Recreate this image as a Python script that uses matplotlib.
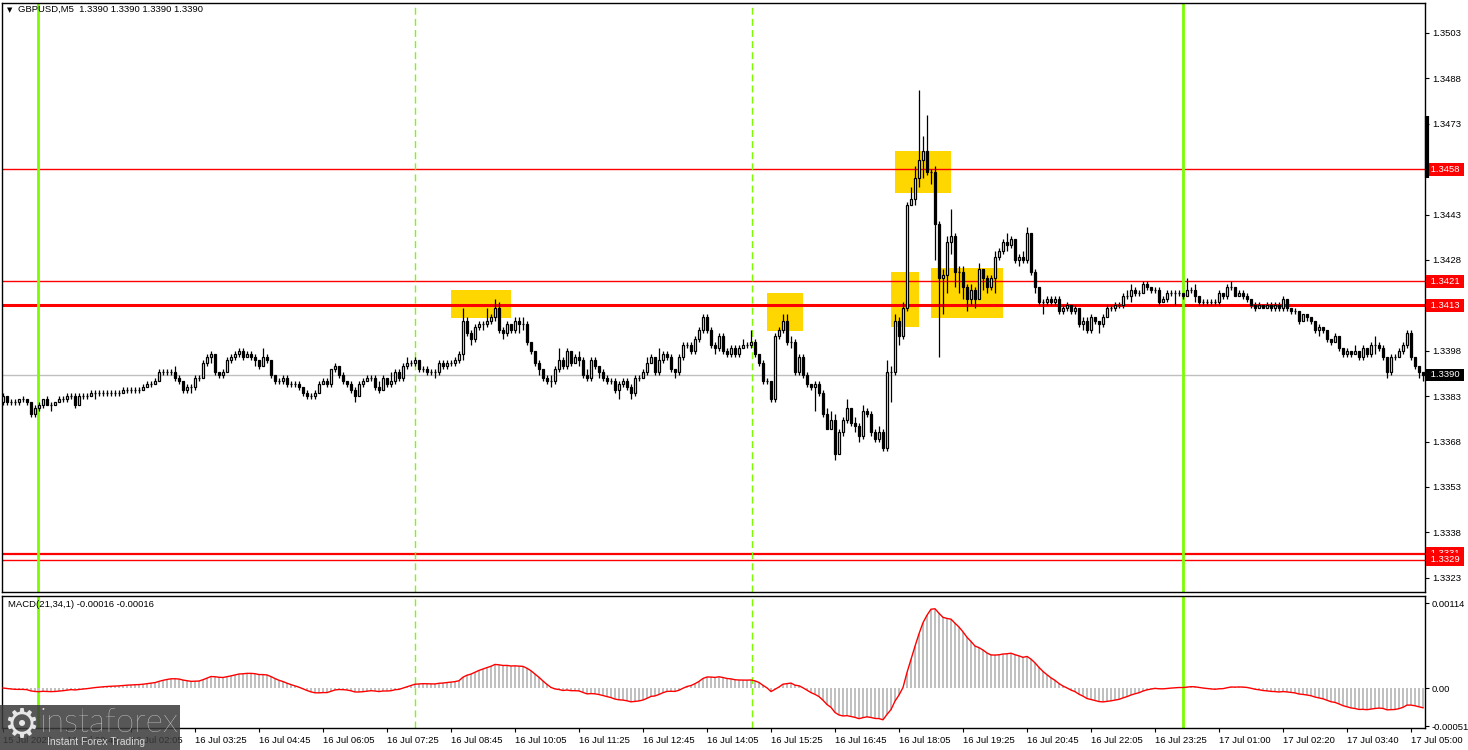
import numpy as np
import pandas as pd
import matplotlib
matplotlib.use("Agg")
import matplotlib.pyplot as plt
import matplotlib.transforms as mtransforms
from matplotlib.patches import Rectangle

plt.rcParams['font.family'] = ['Liberation Sans', 'DejaVu Sans']

# ---------------- data (GBPUSD M5) ----------------
first_open = 1.3381
closes = [
    1.3383, 1.3381, 1.3381, 1.3381, 1.3382, 1.3382, 1.3381, 1.3377, 1.3379, 1.3380,
    1.3382, 1.3380, 1.3380, 1.3381, 1.3382, 1.3382, 1.3383, 1.3383, 1.3380, 1.3383,
    1.3383, 1.3383, 1.3384, 1.3384, 1.3384, 1.3384, 1.3384, 1.3384, 1.3384, 1.3384,
    1.3385, 1.3385, 1.3385, 1.3385, 1.3385, 1.3386, 1.3387, 1.3387, 1.3388, 1.3391,
    1.3391, 1.3391, 1.3391, 1.3389, 1.3388, 1.3385, 1.3386, 1.3386, 1.3389, 1.3389,
    1.3394, 1.3396, 1.3397, 1.3391, 1.3390, 1.3391, 1.3395, 1.3396, 1.3397, 1.3398,
    1.3396, 1.3397, 1.3396, 1.3395, 1.3393, 1.3396, 1.3395, 1.3390, 1.3388, 1.3388,
    1.3389, 1.3387, 1.3387, 1.3387, 1.3386, 1.3384, 1.3383, 1.3383, 1.3384, 1.3387,
    1.3388, 1.3387, 1.3392, 1.3393, 1.3390, 1.3388, 1.3387, 1.3385, 1.3383, 1.3387,
    1.3388, 1.3389, 1.3389, 1.3386, 1.3385, 1.3389, 1.3387, 1.3388, 1.3391, 1.3389,
    1.3393, 1.3394, 1.3394, 1.3395, 1.3392, 1.3392, 1.3391, 1.3391, 1.3391, 1.3394,
    1.3393, 1.3394, 1.3394, 1.3395, 1.3397, 1.3408, 1.3404, 1.3402, 1.3406, 1.3407,
    1.3407, 1.3408, 1.3409, 1.3412, 1.3405, 1.3404, 1.3407, 1.3405, 1.3408, 1.3407,
    1.3407, 1.3401, 1.3398, 1.3394, 1.3392, 1.3389, 1.3388, 1.3388, 1.3392, 1.3395,
    1.3393, 1.3398, 1.3394, 1.3396, 1.3395, 1.3390, 1.3389, 1.3395, 1.3393, 1.3391,
    1.3389, 1.3388, 1.3388, 1.3385, 1.3387, 1.3388, 1.3386, 1.3384, 1.3389, 1.3389,
    1.3391, 1.3394, 1.3396, 1.3391, 1.3395, 1.3397, 1.3396, 1.3392, 1.3391, 1.3396,
    1.3400, 1.3400, 1.3398, 1.3402, 1.3405, 1.3409, 1.3405, 1.3400, 1.3399, 1.3403,
    1.3398, 1.3397, 1.3399, 1.3397, 1.3399, 1.3400, 1.3400, 1.3401, 1.3397, 1.3394,
    1.3388, 1.3388, 1.3382, 1.3403, 1.3405, 1.3408, 1.3401, 1.3401, 1.3391, 1.3396,
    1.3390, 1.3387, 1.3386, 1.3387, 1.3384, 1.3377, 1.3372, 1.3375, 1.3364, 1.3371,
    1.3375, 1.3379, 1.3374, 1.3373, 1.3370, 1.3378, 1.3377, 1.3371, 1.3369, 1.3371,
    1.3366, 1.3391, 1.3391, 1.3408, 1.3403, 1.3412, 1.3446, 1.3448, 1.3455, 1.3461,
    1.3464, 1.3457, 1.3457, 1.3440, 1.3422, 1.3423, 1.3434, 1.3436, 1.3424, 1.3424,
    1.3419, 1.3415, 1.3418, 1.3415, 1.3425, 1.3422, 1.3419, 1.3422, 1.3429, 1.3431,
    1.3434, 1.3433, 1.3435, 1.3428, 1.3429, 1.3428, 1.3437, 1.3424, 1.3419, 1.3414,
    1.3414, 1.3415, 1.3414, 1.3415, 1.3411, 1.3412, 1.3413, 1.3411, 1.3412, 1.3407,
    1.3408, 1.3405, 1.3409, 1.3408, 1.3407, 1.3409, 1.3412, 1.3412, 1.3413, 1.3413,
    1.3416, 1.3416, 1.3418, 1.3417, 1.3417, 1.3420, 1.3419, 1.3418, 1.3418, 1.3414,
    1.3415, 1.3417, 1.3417, 1.3417, 1.3417, 1.3416, 1.3418, 1.3418, 1.3416, 1.3414,
    1.3414, 1.3414, 1.3414, 1.3414, 1.3417, 1.3416, 1.3419, 1.3419, 1.3416, 1.3417,
    1.3416, 1.3415, 1.3413, 1.3412, 1.3413, 1.3412, 1.3413, 1.3412, 1.3413, 1.3412,
    1.3415, 1.3412, 1.3411, 1.3411, 1.3408, 1.3410, 1.3409, 1.3408, 1.3405, 1.3406,
    1.3405, 1.3402, 1.3401, 1.3403, 1.3399, 1.3397, 1.3398, 1.3397, 1.3398, 1.3396,
    1.3399, 1.3397, 1.3400, 1.3400, 1.3399, 1.3396, 1.3391, 1.3396, 1.3396, 1.3398,
    1.3400, 1.3404, 1.3396, 1.3393, 1.3391, 1.3390,
]
highs = [
    1.3384, 1.3383, 1.3382, 1.3382, 1.3382, 1.3383, 1.3382, 1.3381, 1.3380, 1.3381,
    1.3382, 1.3383, 1.3381, 1.3381, 1.3383, 1.3383, 1.3384, 1.3384, 1.3384, 1.3384,
    1.3384, 1.3384, 1.3385, 1.3385, 1.3385, 1.3385, 1.3385, 1.3385, 1.3385, 1.3385,
    1.3386, 1.3386, 1.3386, 1.3386, 1.3386, 1.3387, 1.3388, 1.3388, 1.3389, 1.3392,
    1.3392, 1.3392, 1.3392, 1.3393, 1.3390, 1.3388, 1.3387, 1.3387, 1.3390, 1.3390,
    1.3395, 1.3397, 1.3398, 1.3397, 1.3391, 1.3392, 1.3396, 1.3397, 1.3398, 1.3399,
    1.3399, 1.3398, 1.3398, 1.3397, 1.3395, 1.3399, 1.3397, 1.3395, 1.3390, 1.3389,
    1.3390, 1.3390, 1.3388, 1.3388, 1.3388, 1.3386, 1.3385, 1.3384, 1.3385, 1.3388,
    1.3389, 1.3389, 1.3392, 1.3394, 1.3393, 1.3391, 1.3388, 1.3388, 1.3386, 1.3388,
    1.3389, 1.3390, 1.3390, 1.3390, 1.3388, 1.3390, 1.3389, 1.3391, 1.3392, 1.3392,
    1.3394, 1.3396, 1.3395, 1.3396, 1.3395, 1.3393, 1.3393, 1.3392, 1.3392, 1.3395,
    1.3395, 1.3395, 1.3395, 1.3396, 1.3398, 1.3412, 1.3409, 1.3405, 1.3407, 1.3408,
    1.3408, 1.3412, 1.3410, 1.3415, 1.3414, 1.3406, 1.3408, 1.3407, 1.3409, 1.3409,
    1.3409, 1.3408, 1.3401, 1.3398, 1.3395, 1.3392, 1.3390, 1.3390, 1.3393, 1.3399,
    1.3396, 1.3399, 1.3398, 1.3397, 1.3398, 1.3396, 1.3392, 1.3396, 1.3396, 1.3393,
    1.3392, 1.3390, 1.3389, 1.3389, 1.3388, 1.3389, 1.3389, 1.3387, 1.3390, 1.3390,
    1.3392, 1.3396, 1.3397, 1.3396, 1.3399, 1.3398, 1.3398, 1.3397, 1.3392, 1.3397,
    1.3401, 1.3401, 1.3401, 1.3403, 1.3406, 1.3410, 1.3410, 1.3406, 1.3401, 1.3404,
    1.3404, 1.3399, 1.3400, 1.3400, 1.3400, 1.3402, 1.3401, 1.3405, 1.3402, 1.3397,
    1.3395, 1.3389, 1.3388, 1.3404, 1.3406, 1.3410, 1.3410, 1.3403, 1.3402, 1.3397,
    1.3397, 1.3391, 1.3387, 1.3388, 1.3388, 1.3385, 1.3379, 1.3378, 1.3377, 1.3372,
    1.3376, 1.3382, 1.3379, 1.3376, 1.3374, 1.3380, 1.3379, 1.3378, 1.3372, 1.3373,
    1.3372, 1.3395, 1.3393, 1.3410, 1.3409, 1.3414, 1.3447, 1.3452, 1.3459, 1.3484,
    1.3469, 1.3476, 1.3458, 1.3459, 1.3441, 1.3425, 1.3436, 1.3445, 1.3437, 1.3426,
    1.3426, 1.3420, 1.3420, 1.3419, 1.3427, 1.3425, 1.3423, 1.3423, 1.3431, 1.3432,
    1.3435, 1.3437, 1.3436, 1.3435, 1.3430, 1.3431, 1.3439, 1.3437, 1.3425, 1.3419,
    1.3415, 1.3416, 1.3416, 1.3416, 1.3416, 1.3413, 1.3414, 1.3413, 1.3413, 1.3412,
    1.3409, 1.3409, 1.3410, 1.3409, 1.3408, 1.3410, 1.3413, 1.3413, 1.3414, 1.3414,
    1.3417, 1.3418, 1.3420, 1.3419, 1.3418, 1.3421, 1.3421, 1.3419, 1.3419, 1.3419,
    1.3416, 1.3418, 1.3418, 1.3418, 1.3418, 1.3417, 1.3422, 1.3419, 1.3420, 1.3416,
    1.3415, 1.3415, 1.3415, 1.3415, 1.3418, 1.3417, 1.3420, 1.3421, 1.3419, 1.3418,
    1.3418, 1.3417, 1.3415, 1.3414, 1.3414, 1.3413, 1.3414, 1.3414, 1.3414, 1.3414,
    1.3416, 1.3415, 1.3412, 1.3412, 1.3411, 1.3410, 1.3410, 1.3409, 1.3408, 1.3407,
    1.3406, 1.3405, 1.3402, 1.3404, 1.3403, 1.3399, 1.3399, 1.3398, 1.3400, 1.3398,
    1.3400, 1.3399, 1.3401, 1.3403, 1.3401, 1.3400, 1.3396, 1.3397, 1.3397, 1.3399,
    1.3401, 1.3405, 1.3405, 1.3396, 1.3392, 1.3391,
]
lows = [
    1.3380, 1.3380, 1.3380, 1.3380, 1.3380, 1.3381, 1.3380, 1.3376, 1.3376, 1.3378,
    1.3379, 1.3380, 1.3378, 1.3380, 1.3381, 1.3381, 1.3381, 1.3382, 1.3379, 1.3380,
    1.3382, 1.3382, 1.3383, 1.3382, 1.3383, 1.3383, 1.3383, 1.3383, 1.3383, 1.3383,
    1.3384, 1.3384, 1.3384, 1.3384, 1.3384, 1.3385, 1.3386, 1.3386, 1.3387, 1.3388,
    1.3390, 1.3390, 1.3390, 1.3388, 1.3387, 1.3384, 1.3384, 1.3384, 1.3385, 1.3388,
    1.3389, 1.3393, 1.3394, 1.3390, 1.3389, 1.3389, 1.3391, 1.3394, 1.3395, 1.3396,
    1.3395, 1.3396, 1.3395, 1.3393, 1.3392, 1.3393, 1.3394, 1.3389, 1.3387, 1.3387,
    1.3387, 1.3386, 1.3386, 1.3386, 1.3385, 1.3383, 1.3382, 1.3382, 1.3382, 1.3384,
    1.3387, 1.3386, 1.3386, 1.3391, 1.3389, 1.3387, 1.3386, 1.3384, 1.3381, 1.3383,
    1.3386, 1.3388, 1.3388, 1.3385, 1.3384, 1.3385, 1.3386, 1.3386, 1.3387, 1.3388,
    1.3388, 1.3392, 1.3393, 1.3393, 1.3391, 1.3391, 1.3390, 1.3390, 1.3389, 1.3390,
    1.3392, 1.3392, 1.3393, 1.3393, 1.3394, 1.3395, 1.3403, 1.3400, 1.3401, 1.3405,
    1.3405, 1.3406, 1.3407, 1.3408, 1.3404, 1.3402, 1.3403, 1.3404, 1.3404, 1.3404,
    1.3405, 1.3400, 1.3397, 1.3393, 1.3390, 1.3388, 1.3387, 1.3386, 1.3387, 1.3391,
    1.3392, 1.3392, 1.3393, 1.3394, 1.3393, 1.3389, 1.3388, 1.3388, 1.3392, 1.3389,
    1.3388, 1.3387, 1.3387, 1.3384, 1.3382, 1.3386, 1.3385, 1.3382, 1.3383, 1.3388,
    1.3389, 1.3390, 1.3394, 1.3390, 1.3390, 1.3394, 1.3395, 1.3391, 1.3389, 1.3390,
    1.3395, 1.3399, 1.3397, 1.3397, 1.3401, 1.3404, 1.3404, 1.3399, 1.3397, 1.3398,
    1.3397, 1.3396, 1.3396, 1.3396, 1.3396, 1.3399, 1.3399, 1.3399, 1.3396, 1.3393,
    1.3387, 1.3387, 1.3381, 1.3381, 1.3402, 1.3404, 1.3400, 1.3399, 1.3390, 1.3390,
    1.3389, 1.3386, 1.3385, 1.3378, 1.3383, 1.3376, 1.3372, 1.3373, 1.3362, 1.3364,
    1.3370, 1.3374, 1.3373, 1.3371, 1.3368, 1.3369, 1.3376, 1.3370, 1.3368, 1.3368,
    1.3365, 1.3365, 1.3381, 1.3390, 1.3400, 1.3402, 1.3411, 1.3446, 1.3446, 1.3452,
    1.3455, 1.3456, 1.3453, 1.3428, 1.3396, 1.3410, 1.3417, 1.3430, 1.3419, 1.3417,
    1.3415, 1.3411, 1.3413, 1.3412, 1.3415, 1.3418, 1.3417, 1.3418, 1.3417, 1.3428,
    1.3430, 1.3431, 1.3432, 1.3427, 1.3426, 1.3427, 1.3427, 1.3423, 1.3417, 1.3413,
    1.3410, 1.3413, 1.3413, 1.3413, 1.3410, 1.3410, 1.3411, 1.3410, 1.3410, 1.3406,
    1.3405, 1.3404, 1.3404, 1.3407, 1.3404, 1.3406, 1.3409, 1.3411, 1.3411, 1.3412,
    1.3412, 1.3415, 1.3414, 1.3416, 1.3416, 1.3417, 1.3418, 1.3417, 1.3417, 1.3413,
    1.3414, 1.3414, 1.3416, 1.3413, 1.3416, 1.3415, 1.3416, 1.3417, 1.3414, 1.3413,
    1.3413, 1.3413, 1.3413, 1.3413, 1.3413, 1.3415, 1.3415, 1.3418, 1.3416, 1.3416,
    1.3415, 1.3414, 1.3412, 1.3411, 1.3412, 1.3412, 1.3412, 1.3411, 1.3411, 1.3411,
    1.3411, 1.3411, 1.3410, 1.3410, 1.3407, 1.3408, 1.3408, 1.3407, 1.3404, 1.3403,
    1.3404, 1.3401, 1.3400, 1.3401, 1.3398, 1.3396, 1.3396, 1.3396, 1.3397, 1.3395,
    1.3395, 1.3396, 1.3396, 1.3397, 1.3398, 1.3395, 1.3389, 1.3390, 1.3395, 1.3396,
    1.3397, 1.3399, 1.3395, 1.3392, 1.3389, 1.3388,
]
time_labels = [
    "15 Jul 2025", "16 Jul 00:45", "16 Jul 02:05", "16 Jul 03:25", "16 Jul 04:45",
    "16 Jul 06:05", "16 Jul 07:25", "16 Jul 08:45", "16 Jul 10:05", "16 Jul 11:25",
    "16 Jul 12:45", "16 Jul 14:05", "16 Jul 15:25", "16 Jul 16:45", "16 Jul 18:05",
    "16 Jul 19:25", "16 Jul 20:45", "16 Jul 22:05", "16 Jul 23:25", "17 Jul 01:00",
    "17 Jul 02:20", "17 Jul 03:40", "17 Jul 05:00",
]
label_step = 16  # bars between time labels
price_ticks = [1.3503, 1.3488, 1.3473, 1.3443, 1.3428, 1.3398, 1.3383,
               1.3368, 1.3353, 1.3338, 1.3323]
red_levels = [1.3458, 1.3421, 1.3413, 1.3331, 1.3329]
red_widths = [1.0, 1.0, 2.2, 1.6, 1.0]
current_price = 1.3390
macd_ticks = [0.00114, 0.0, -0.00051]
macd_tick_labels = ["0.00114", "0.00", "-0.00051"]
macd_last_values = ["-0.00016", "-0.00016"]
# signal zones: (first bar, last bar, lower price, upper price)
zones = [(112.0, 127.0, 1.34088, 1.34181),
         (191.0, 200.0, 1.34046, 1.34171),
         (223.0, 236.9, 1.34501, 1.34640),
         (222.0, 229.0, 1.34059, 1.34240),
         (232.0, 250.0, 1.34088, 1.34254)]
green_lines = [8.75, 295.0]
dashed_lines = [103.0, 187.25]

# ---------------- derived ----------------
closes = np.array(closes)
highs = np.array(highs)
lows = np.array(lows)
opens = np.concatenate([[first_open], closes[:-1]])
n = len(closes)
x = np.arange(n)
cs = pd.Series(closes)
macd = cs.ewm(span=21, adjust=False).mean() - cs.ewm(span=34, adjust=False).mean()
signal = macd.rolling(1).mean()

# ---------------- figure ----------------
W, H = 1468, 750
fig = plt.figure(figsize=(W / 100, H / 100), dpi=100)
ax = fig.add_axes([2 / W, 1 - 592 / H, 1423 / W, 589 / H])
axm = fig.add_axes([2 / W, 1 - 728 / H, 1423 / W, 132 / H])

FS = 6.8
for a in (ax, axm):
    a.set_xlim(-0.25, 355.5)
    for s in a.spines.values():
        s.set_color('black')
        s.set_linewidth(1.0)
    a.yaxis.tick_right()
    a.tick_params(axis='y', direction='out', length=3, width=0.8, pad=2,
                  labelsize=FS, colors='black')

ax.set_ylim(1.33183, 1.35129)
ax.set_xticks([])
ax.set_yticks(price_ticks)
ax.set_yticklabels([f"{p:.4f}" for p in price_ticks])

# zones
for b0, b1, p0, p1 in zones:
    ax.add_patch(Rectangle((b0, p0), b1 - b0, p1 - p0, facecolor='#FFD700',
                           edgecolor='none', zorder=1))

# horizontal levels
ax.axhline(current_price, color='#c0c0c0', lw=1.0, zorder=2)
for lvl, lw in zip(red_levels, red_widths):
    ax.axhline(lvl, color='#ff0000', lw=lw, zorder=2)

# vertical lines
for gx in green_lines:
    for a in (ax, axm):
        a.axvline(gx, color='#7CFC00', lw=2.0, zorder=2)
for dx in dashed_lines:
    for a in (ax, axm):
        a.axvline(dx, color='#7CFC00', lw=1.0, dashes=(5, 3), zorder=2)

# candles
up = closes >= opens
ax.vlines(x, lows, highs, color='black', lw=0.9, zorder=3)
body_lo = np.minimum(opens, closes)
body_h = np.abs(closes - opens)
ax.bar(x, body_h, bottom=body_lo, width=0.5,
       color=np.where(up, 'white', 'black'), edgecolor='black',
       linewidth=0.9, zorder=4)

# price boxes on axis
blend = mtransforms.blended_transform_factory(ax.transAxes, ax.transData)
box_kw = dict(boxstyle='square,pad=0.2', edgecolor='none')
for lvl in red_levels:
    ax.text(1.0022, lvl, f" {lvl:.4f} ", transform=blend, fontsize=FS,
            color='white', va='center', ha='left', clip_on=False, zorder=10,
            bbox=dict(facecolor='#ff0000', **box_kw))
ax.text(1.0022, current_price, f" {current_price:.4f} ", transform=blend,
        fontsize=FS, color='white', va='center', ha='left', clip_on=False,
        zorder=10, bbox=dict(facecolor='black', **box_kw))
ax.plot([1.0012, 1.0012], [1.34756, 1.34551], transform=blend, color='black',
        lw=3, clip_on=False, solid_capstyle='butt', zorder=10)

# header
ax.text(0.0035, 0.9885, "\u25BC", transform=ax.transAxes, fontsize=5,
        va='center', ha='left', family='DejaVu Sans')
ax.text(0.0115, 0.9885, f"GBPUSD,M5  {closes[-1]:.4f} {closes[-1]:.4f} "
        f"{closes[-1]:.4f} {closes[-1]:.4f}", transform=ax.transAxes,
        fontsize=FS, va='center', ha='left')

# MACD panel
axm.set_ylim(-0.000536, 0.001234)
axm.bar(x, macd.values, width=0.5, color='#c0c0c0', zorder=3)
axm.plot(x, signal.values, color='#ff0000', lw=1.0, zorder=4)
axm.set_yticks(macd_ticks)
axm.set_yticklabels(macd_tick_labels)
tick_pos = np.arange(0, n, label_step)[:len(time_labels)]
axm.set_xticks(tick_pos)
axm.set_xticklabels(time_labels, ha='left', fontsize=FS)
axm.tick_params(axis='x', direction='out', length=3, width=0.8, pad=3)
axm.text(0.004, 0.935, f"MACD(21,34,1) {macd_last_values[0]} {macd_last_values[1]}",
         transform=axm.transAxes, fontsize=FS, va='center', ha='left')

# logo
fig.patches.append(Rectangle((0, 0), 180 / W, 45 / H, transform=fig.transFigure,
                             facecolor='#3a3a3a', alpha=0.85, edgecolor='none',
                             zorder=20))
fig.text(3 / W, 24 / H, "\u2699", fontsize=29, color='#e6e6e6', va='center',
         ha='left', family='DejaVu Sans', zorder=21)
fig.text(40 / W, 27 / H, "instaforex", fontsize=24, color='#eeeeee',
         va='center', ha='left', family='Lato', fontweight='light', zorder=21)
fig.text(47 / W, 8 / H, "Instant Forex Trading", fontsize=7.5, color='#d8d8d8',
         va='center', ha='left', zorder=21)

fig.savefig("out.png", dpi=100, facecolor='white')
